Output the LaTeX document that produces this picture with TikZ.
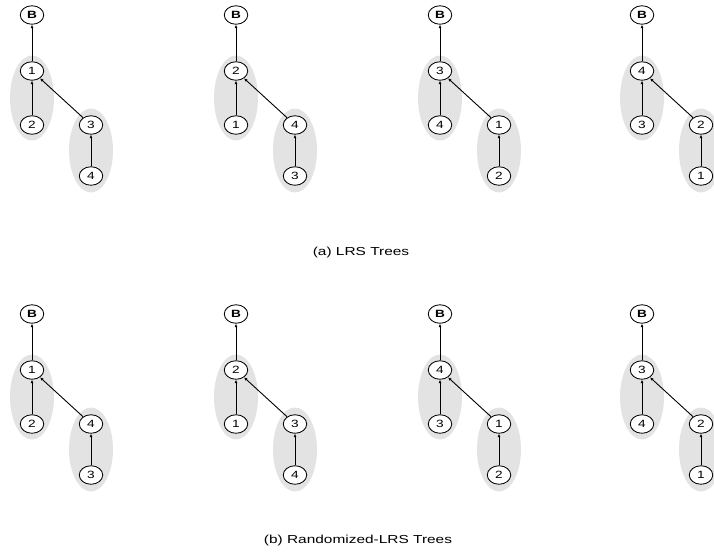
\documentclass[tikz,border=0pt]{standalone}
\usepackage{fontspec}
\setmainfont{Liberation Sans}
\usetikzlibrary{arrows.meta,shapes.geometric}
\tikzset{
  tnode/.style={draw=black, line width=0.85pt, fill=white, ellipse, inner sep=0pt,
    minimum width=23.5pt, minimum height=18.5pt, font=\fontsize{10.5}{11}\selectfont},
  group/.style={fill=black!11, draw=none},
  edge/.style={draw=black, line width=0.9pt, -{Latex[length=3.5pt,width=3pt]}},
  caption/.style={font=\fontsize{11.6}{13}\selectfont}
}
\newcommand{\hs}[1]{\scalebox{1.3}[1]{#1}}
\newcommand{\hsc}[1]{\scalebox{1.33}[1]{#1}}
% \lrstree{prefix}{x}{yB}{root}{left}{right}{grand}
\newcommand{\lrstree}[7]{%
  \pgfmathsetmacro{\yr}{#3+56}%
  \pgfmathsetmacro{\yl}{#3+110}%
  \pgfmathsetmacro{\yg}{#3+161}%
  \pgfmathsetmacro{\xr}{#2+59}%
  \fill[group] (#2,{#3+83}) ellipse [x radius=22, y radius=42.5];
  \fill[group] (\xr,{#3+135.5}) ellipse [x radius=22, y radius=42];
  \node[tnode] (#1B) at (#2,#3) {\hs{\textbf{B}}};
  \node[tnode] (#1r) at (#2,\yr) {\hs{#4}};
  \node[tnode] (#1l) at (#2,\yl) {\hs{#5}};
  \node[tnode] (#1c) at (\xr,\yl) {\hs{#6}};
  \node[tnode] (#1g) at (\xr,\yg) {\hs{#7}};
  \draw[edge] (#1r) -- (#1B);
  \draw[edge] (#1l) -- (#1r);
  \draw[edge] (#1c) -- (#1r);
  \draw[edge] (#1g) -- (#1c);
}
\begin{document}
\begin{tikzpicture}[x=1pt,y=-1pt]
\useasboundingbox (0,0) rectangle (714,555);
\lrstree{a}{32}{15}{1}{2}{3}{4}
\lrstree{b}{236}{15}{2}{1}{4}{3}
\lrstree{c}{440}{15}{3}{4}{1}{2}
\lrstree{d}{642}{15}{4}{3}{2}{1}
\lrstree{e}{32}{314}{1}{2}{4}{3}
\lrstree{f}{236}{314}{2}{1}{3}{4}
\lrstree{g}{440}{314}{4}{3}{1}{2}
\lrstree{h}{642}{314}{3}{4}{2}{1}
\node[caption] (capa) at (361,252) {\hsc{(a) LRS Trees}};
\node[caption] (capb) at (358,540) {\hsc{(b) Randomized-LRS Trees}};
\end{tikzpicture}
\end{document}
